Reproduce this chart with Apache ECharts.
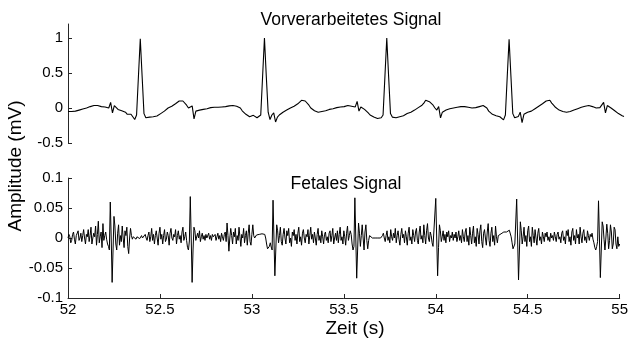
<!DOCTYPE html>
<html>
<head>
<meta charset="utf-8">
<script src="https://cdn.jsdelivr.net/npm/echarts@6/dist/echarts.min.js"></script>
<style>
  html, body { margin: 0; padding: 0; background: #fff; }
  #chart { width: 631px; height: 345px; }
</style>
</head>
<body>
<div id="chart"></div>
<script>
// time axis (s)
const tStart = 52;
const dtTop = 0.01;    // sample step of the upper trace
const dtFetal = 0.005; // sample step of the lower trace

const xTicks = [52, 52.5, 53, 53.5, 54, 54.5, 55];
const topTicks = [-0.5, 0, 0.5, 1];
const fetalTicks = [-0.1, -0.05, 0, 0.05, 0.1];

// Vorverarbeitetes Signal (mV), 52.00 .. 55.00 s
const topSignal = [
  -0.05,-0.045,-0.05,-0.04,-0.045,-0.04,-0.03,-0.025,-0.015,-0.01,
  0.0,0.01,0.02,0.025,0.035,0.03,0.035,0.025,0.02,0.025,
  0.015,0.005,0.0,0.08,-0.07,0.035,0.01,-0.02,-0.03,-0.04,
  -0.05,-0.06,-0.09,-0.1,-0.09,-0.11,-0.165,-0.1,0.45,0.99,
  0.45,-0.08,-0.14,-0.135,-0.13,-0.13,-0.125,-0.12,-0.115,-0.11,
  -0.08,-0.06,-0.045,-0.02,0.0,0.02,0.025,0.045,0.06,0.08,
  0.1,0.115,0.1,0.075,0.04,0.0,-0.02,0.03,-0.155,-0.045,
  -0.04,-0.03,-0.025,-0.02,-0.015,-0.01,0.0,0.005,0.01,0.01,
  0.015,0.01,0.02,0.015,0.015,0.02,0.025,0.03,0.03,0.035,
  0.03,0.025,0.015,0.0,-0.04,-0.06,-0.09,-0.11,-0.125,-0.105,
  -0.105,-0.12,-0.14,-0.165,-0.1,0.45,1.0,0.45,-0.06,-0.165,
  -0.1,-0.07,-0.2,-0.13,-0.1,-0.08,-0.06,-0.045,-0.03,-0.01,
  0.0,0.015,0.025,0.04,0.06,0.08,0.11,0.12,0.1,0.075,
  0.04,0.0,-0.02,-0.04,-0.05,-0.06,-0.055,-0.05,-0.045,-0.04,
  -0.03,-0.02,-0.02,-0.01,0.0,0.005,0.01,0.015,0.015,0.02,
  0.03,0.035,0.03,0.025,0.015,0.015,0.095,-0.045,0.015,0.01,
  -0.02,-0.045,-0.07,-0.1,-0.125,-0.13,-0.14,-0.15,-0.165,-0.14,
  -0.1,0.45,1.0,0.45,-0.08,-0.13,-0.14,-0.14,-0.13,-0.125,
  -0.12,-0.11,-0.1,-0.08,-0.07,-0.06,-0.045,-0.03,-0.01,0.005,
  0.02,0.04,0.07,0.11,0.105,0.09,0.075,0.04,0.0,-0.03,
  0.02,-0.14,-0.06,-0.045,-0.03,-0.02,-0.01,0.0,0.0,0.005,
  0.01,0.015,0.02,0.02,0.02,0.015,0.01,0.005,0.0,0.0,
  0.005,0.015,0.02,0.03,0.035,0.03,0.0,-0.045,-0.07,-0.09,
  -0.105,-0.11,-0.12,-0.125,-0.13,-0.17,-0.1,0.45,0.98,0.45,
  -0.08,-0.14,-0.165,-0.12,-0.06,-0.21,-0.09,-0.07,-0.06,-0.05,
  -0.045,-0.03,-0.01,0.01,0.025,0.04,0.06,0.08,0.1,0.12,
  0.11,0.07,0.04,0.01,-0.01,-0.03,-0.04,-0.05,-0.06,-0.06,
  -0.055,-0.05,-0.04,-0.03,-0.02,-0.01,0.0,0.01,0.02,0.025,
  0.03,0.035,0.03,0.02,0.01,0.0,0.0,0.005,0.01,0.08,
  -0.07,0.035,0.02,0.0,-0.02,-0.04,-0.06,-0.08,-0.09,-0.11,
  -0.12
];

// Fetales Signal (mV), 52.000 .. 55.000 s
const fetalSignal = [
  0.0,0.006,0.002,-0.008,-0.004,0.006,0.01,-0.002,-0.01,0.004,0.002,0.012,-0.004,0.0,0.008,-0.006,0.004,0.014,0.0,-0.01,
  0.006,0.002,0.014,-0.006,0.004,0.018,-0.01,0.0,0.008,0.002,0.02,-0.012,0.006,0.028,-0.008,0.002,0.01,-0.016,0.024,-0.004,
  0.004,0.01,-0.002,-0.01,-0.014,-0.02,0.06,0.0,-0.074,-0.02,0.036,0.02,-0.01,-0.02,0.008,0.022,-0.012,0.004,-0.006,0.02,
  0.0,-0.016,0.012,0.004,0.018,-0.014,-0.026,0.0,0.016,0.004,-0.002,0.002,0.004,0.0,-0.002,0.002,0.004,0.001,-0.001,0.002,
  0.004,0.0,-0.002,0.003,0.006,0.0,-0.004,0.004,0.01,-0.006,0.002,0.016,-0.004,0.006,-0.01,0.004,0.012,0.0,-0.012,0.008,
  0.018,-0.002,0.006,-0.01,0.004,0.014,-0.006,-0.002,0.01,0.004,-0.012,0.008,0.016,0.0,-0.004,0.006,0.002,0.014,-0.01,0.004,
  0.012,-0.002,0.004,-0.008,0.01,0.018,-0.004,0.002,0.01,-0.004,-0.016,-0.02,-0.005,0.069,0.0,-0.074,-0.02,0.018,0.012,-0.004,
  -0.006,0.008,0.0,0.012,-0.006,0.002,0.008,-0.002,0.004,-0.004,0.006,0.0,0.002,0.008,-0.002,0.004,-0.004,0.006,0.002,0.0,
  0.006,-0.004,0.002,0.008,-0.002,0.004,-0.006,0.008,0.002,-0.004,0.006,0.01,-0.006,0.025,0.004,-0.022,0.0,0.016,0.004,-0.01,
  0.01,0.002,0.016,-0.01,0.004,-0.004,0.018,0.002,-0.014,0.006,0.0,0.016,-0.008,0.004,0.012,-0.012,0.008,0.022,-0.006,-0.012,
  0.006,0.022,0.004,0.0,0.003,0.005,0.003,0.004,0.006,0.004,0.005,0.007,0.005,0.008,0.006,0.0,-0.01,-0.018,-0.02,-0.014,
  -0.008,-0.015,-0.02,0.063,0.0,-0.063,-0.02,0.022,0.012,-0.008,0.004,0.018,-0.006,-0.012,0.006,0.016,0.0,-0.01,0.012,0.004,
  0.016,-0.008,0.0,-0.014,0.01,0.004,0.014,-0.004,0.006,-0.01,0.008,0.018,-0.006,0.002,-0.012,0.008,0.014,0.0,-0.008,0.006,
  0.002,0.014,-0.01,0.004,0.018,-0.002,0.006,-0.008,0.01,0.0,-0.012,0.006,0.016,-0.004,0.004,-0.008,0.012,0.002,-0.01,0.006,
  0.01,-0.004,0.002,-0.008,0.008,0.012,-0.006,0.004,0.016,-0.01,0.0,0.008,-0.004,0.012,-0.008,0.006,0.018,-0.004,0.002,-0.01,
  0.012,0.002,-0.012,0.008,0.02,-0.004,0.004,0.012,0.006,-0.01,-0.02,-0.014,0.067,0.0,-0.067,-0.02,0.025,0.008,-0.014,0.004,
  0.022,0.0,-0.02,0.01,0.022,-0.004,-0.018,-0.004,0.004,0.001,0.002,0.0,0.001,0.002,0.0,0.001,0.002,0.0,0.002,0.003,
  0.0,-0.002,0.004,0.008,0.0,-0.006,0.004,0.012,-0.004,0.002,-0.008,0.014,0.002,-0.004,0.008,0.0,0.016,-0.008,0.004,0.012,
  -0.002,-0.012,0.006,0.016,0.0,0.006,-0.008,0.012,0.002,-0.012,0.008,0.018,-0.004,0.002,-0.01,0.014,0.004,-0.006,0.01,0.016,
  -0.004,-0.01,0.01,0.02,-0.002,0.004,-0.008,0.022,0.004,-0.01,0.012,0.024,0.0,-0.006,0.01,0.004,-0.008,-0.014,-0.012,-0.016,
  0.066,0.0,-0.063,-0.016,0.022,0.012,-0.006,0.002,0.012,-0.004,0.006,-0.008,0.01,0.002,0.012,-0.006,0.004,0.0,0.01,-0.004,
  0.006,0.0,0.01,-0.006,0.002,0.012,-0.004,0.004,-0.008,0.014,0.002,-0.006,0.01,0.016,-0.006,0.004,-0.012,0.018,0.004,-0.01,
  0.008,0.02,-0.008,0.002,-0.014,0.016,0.006,-0.01,0.012,0.022,-0.006,-0.016,0.008,0.014,0.0,-0.012,0.01,0.024,-0.004,-0.014,
  0.008,0.018,-0.006,0.004,-0.012,0.02,0.002,-0.008,0.004,0.006,0.005,0.007,0.008,0.007,0.01,0.009,0.011,0.01,0.013,0.012,
  0.013,0.01,0.002,-0.008,-0.018,-0.02,-0.01,-0.012,0.065,0.0,-0.07,-0.02,0.027,0.012,-0.01,0.002,0.018,-0.006,0.004,-0.014,
  0.012,0.02,-0.006,0.002,-0.014,0.018,0.004,-0.008,0.014,0.0,-0.012,0.008,0.016,-0.004,0.002,-0.01,0.01,0.002,-0.006,0.008,
  0.002,0.01,-0.004,0.002,-0.006,0.008,0.0,0.004,-0.004,0.01,0.002,-0.006,0.006,0.01,-0.002,0.002,-0.008,0.008,0.012,-0.004,
  0.002,-0.01,0.012,0.004,0.014,-0.006,0.002,-0.012,0.01,0.016,-0.004,0.004,-0.01,0.014,0.0,0.006,-0.01,0.018,0.002,-0.008,
  0.008,0.014,-0.004,0.002,-0.008,0.012,0.004,-0.004,0.006,0.002,0.008,-0.002,-0.008,-0.016,-0.02,-0.014,-0.006,0.062,0.0,-0.066,
  -0.02,0.027,0.02,-0.002,-0.02,0.0,0.023,0.008,-0.018,-0.004,0.022,0.01,-0.018,-0.01,0.018,0.014,-0.01,-0.018,0.002,-0.014,
  -0.01
];

const toPairs = (arr, dt) => arr.map((v, i) => [+(tStart + i * dt).toFixed(3), v]);

const FONT = "'Liberation Sans', Arial, sans-serif";
const INK = "#000";
const AXIS = "#262626";

const chart = echarts.init(document.getElementById("chart"), null, { renderer: "canvas" });

const tickLabel = { color: INK, fontFamily: FONT, fontSize: 15 };

const option = {
  animation: false,
  backgroundColor: "#fff",
  grid: [
    { left: 68, right: 7, top: 24, height: 119 },
    { left: 68, right: 7, top: 178, height: 120 }
  ],
  xAxis: [
    {
      gridIndex: 0, type: "value", min: 52, max: 55, show: false
    },
    {
      gridIndex: 1, type: "value", min: 52, max: 55, interval: 0.5,
      axisLine: { show: true, onZero: false, lineStyle: { color: AXIS, width: 1 } },
      axisTick: { inside: true, length: 4, lineStyle: { color: AXIS } },
      axisLabel: { ...tickLabel, margin: 4, customValues: xTicks },
      splitLine: { show: false }
    }
  ],
  yAxis: [
    {
      gridIndex: 0, type: "value", min: -0.5, max: 1.2,
      axisLine: { show: true, onZero: false, lineStyle: { color: AXIS, width: 1 } },
      axisTick: { inside: true, length: 4, lineStyle: { color: AXIS }, customValues: topTicks },
      axisLabel: { ...tickLabel, margin: 5, customValues: topTicks },
      splitLine: { show: false }
    },
    {
      gridIndex: 1, type: "value", min: -0.1, max: 0.1, interval: 0.05,
      axisLine: { show: true, onZero: false, lineStyle: { color: AXIS, width: 1 } },
      axisTick: { inside: true, length: 4, lineStyle: { color: AXIS }, customValues: fetalTicks },
      axisLabel: { ...tickLabel, margin: 5, customValues: fetalTicks },
      splitLine: { show: false }
    }
  ],
  series: [
    {
      name: "Vorverarbeitetes Signal", type: "line",
      xAxisIndex: 0, yAxisIndex: 0,
      showSymbol: false, smooth: false,
      lineStyle: { color: INK, width: 1.1 },
      data: toPairs(topSignal, dtTop)
    },
    {
      name: "Fetales Signal", type: "line",
      xAxisIndex: 1, yAxisIndex: 1,
      showSymbol: false, smooth: false,
      lineStyle: { color: INK, width: 1 },
      data: toPairs(fetalSignal, dtFetal)
    }
  ],
  graphic: [
    {
      type: "text", x: 351, y: 20,
      style: { text: "Vorverarbeitetes Signal", fill: INK, font: "17.5px " + FONT, align: "center", verticalAlign: "middle" }
    },
    {
      type: "text", x: 346, y: 184,
      style: { text: "Fetales Signal", fill: INK, font: "17.5px " + FONT, align: "center", verticalAlign: "middle" }
    },
    {
      type: "text", x: 355, y: 329,
      style: { text: "Zeit (s)", fill: INK, font: "19px " + FONT, align: "center", verticalAlign: "middle" }
    },
    {
      type: "text", x: 16, y: 166, rotation: Math.PI / 2,
      style: { text: "Amplitude (mV)", fill: INK, font: "19px " + FONT, align: "center", verticalAlign: "middle" }
    }
  ]
};

chart.setOption(option);
</script>
</body>
</html>
